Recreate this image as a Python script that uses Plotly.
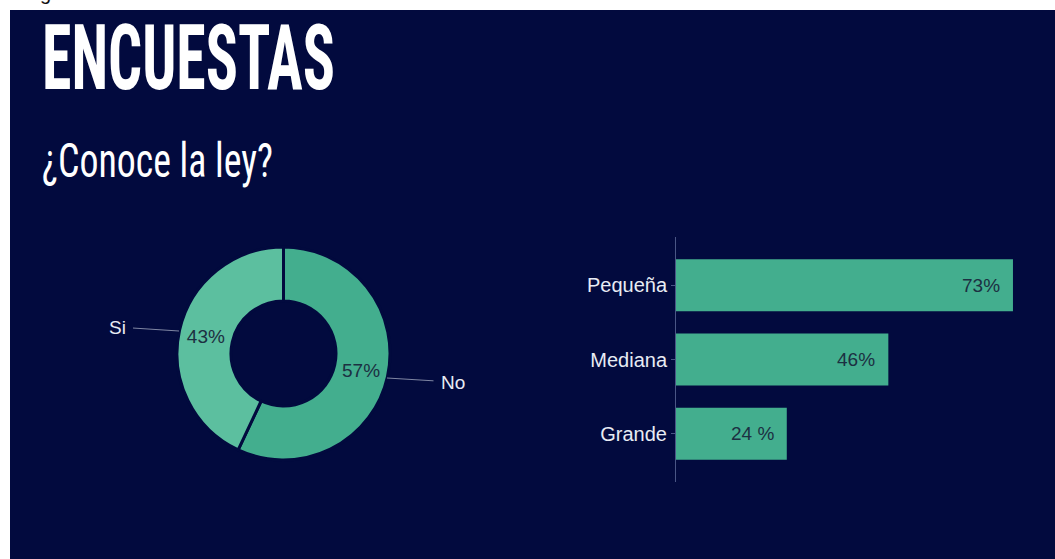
import plotly.graph_objects as go

W, H = 1055, 559

# ---- data ----
pie_labels = ["No", "Si"]
pie_values = [57, 43]
pie_text = ["57%", "43%"]

bar_categories = ["Pequeña", "Mediana", "Grande"]
bar_values = [73, 46, 24]
bar_text = ["73%", "46%", "24 %"]

title_text = "ENCUESTAS"
subtitle_text = "¿Conoce la ley?"

NAVY = "#020a3e"
TEAL = "#43ae8e"
TEAL_LIGHT = "#5cbf9f"
DARK_TXT = "#1c3042"
TICK_TXT = "#e8ecf4"


def px(x):
    return x / W


def py(y):
    return 1 - y / H


fig = go.Figure()

fig.add_trace(go.Pie(
    labels=pie_labels,
    values=pie_values,
    text=pie_text,
    textinfo="text",
    textposition="inside",
    insidetextorientation="horizontal",
    textfont=dict(family="Liberation Sans, Arial, sans-serif", size=19, color=DARK_TXT),
    sort=False,
    direction="clockwise",
    rotation=0,
    hole=0.493,
    marker=dict(colors=[TEAL, TEAL_LIGHT], line=dict(color=NAVY, width=3)),
    domain=dict(x=[px(177), px(390)], y=[py(460), py(247)]),
    showlegend=False,
    hoverinfo="label+percent",
))

fig.add_trace(go.Bar(
    x=bar_values,
    y=bar_categories,
    orientation="h",
    marker=dict(color=TEAL, line=dict(width=0)),
    showlegend=False,
    xaxis="x",
    yaxis="y",
))

annotations = []
for c, v, t in zip(bar_categories, bar_values, bar_text):
    annotations.append(dict(
        x=v, y=c, xref="x", yref="y", text=t, showarrow=False,
        xanchor="right", yanchor="middle", xshift=-11,
        font=dict(family="Liberation Sans, Arial, sans-serif", size=19, color=DARK_TXT),
    ))

# pie outside labels with leader lines
annotations.append(dict(
    x=px(179), y=py(331), xref="paper", yref="paper", text="Si",
    showarrow=True, arrowhead=0, arrowwidth=1, arrowcolor="#7f86a3",
    ax=-62, ay=-4, startstandoff=6,
    font=dict(family="Liberation Sans, Arial, sans-serif", size=19, color=TICK_TXT),
))
annotations.append(dict(
    x=px(387), y=py(378), xref="paper", yref="paper", text="No",
    showarrow=True, arrowhead=0, arrowwidth=1, arrowcolor="#7f86a3",
    ax=66, ay=4, startstandoff=6,
    font=dict(family="Liberation Sans, Arial, sans-serif", size=19, color=TICK_TXT),
))

# titles
annotations.append(dict(
    x=px(40), y=py(113), xref="paper", yref="paper", text=title_text,
    showarrow=False, xanchor="left", yanchor="bottom",
    font=dict(family="Roboto Condensed, Liberation Sans Narrow, DejaVu Sans Condensed, Liberation Sans, sans-serif",
              size=91, color="#ffffff", weight="bold"),
))
annotations.append(dict(
    x=px(40), y=py(191), xref="paper", yref="paper", text=subtitle_text,
    showarrow=False, xanchor="left", yanchor="bottom",
    font=dict(family="Roboto Condensed, Liberation Sans Narrow, DejaVu Sans Condensed, Liberation Sans, sans-serif",
              size=49, color="#ffffff", weight="normal"),
))
# stray glyph from the screenshot's top-left corner
annotations.append(dict(
    x=px(45), y=py(6), xref="paper", yref="paper", text="g",
    showarrow=False, xanchor="center", yanchor="bottom",
    font=dict(family="Liberation Sans, Arial, sans-serif", size=20, color="#111111"),
))

shapes = [
    dict(type="rect", xref="paper", yref="paper", x0=0, x1=1, y0=py(10), y1=1,
         fillcolor="#ffffff", line=dict(width=0), layer="above"),
    dict(type="rect", xref="paper", yref="paper", x0=0, x1=px(10), y0=0, y1=1,
         fillcolor="#ffffff", line=dict(width=0), layer="above"),
]

fig.update_layout(
    width=W, height=H,
    margin=dict(l=0, r=0, t=0, b=0),
    paper_bgcolor=NAVY,
    plot_bgcolor=NAVY,
    bargap=0.30,
    xaxis=dict(domain=[px(676), px(676) + 80 * 4.616 / W], range=[0, 80], visible=False, fixedrange=True),
    yaxis=dict(
        domain=[py(482), py(237)],
        categoryorder="array", categoryarray=bar_categories,
        range=[2.65, -0.65],
        showline=True, linecolor="#4a5685", linewidth=1,
        ticks="outside", ticklen=4, tickcolor="#4a5685",
        showgrid=False, zeroline=False,
        tickfont=dict(family="Liberation Sans, Arial, sans-serif", size=20, color=TICK_TXT),
        fixedrange=True,
    ),
    shapes=shapes,
    annotations=annotations,
)

post_js = """
document.documentElement.style.margin = '0';
document.body.style.margin = '0';
document.body.style.overflow = 'hidden';
var gd = document.getElementById('{plot_id}');
var targets = {'ENCUESTAS': 293, '\\u00bfConoce la ley?': 231};
gd.querySelectorAll('.annotation-text').forEach(function(t){
  var s = t.textContent;
  var target = targets[s];
  if (!target) return;
  var bb = t.getBBox();
  var k = target / bb.width;
  var prev = t.getAttribute('transform') || '';
  t.setAttribute('transform', prev + ' translate(' + bb.x + ',0) scale(' + k + ',1) translate(' + (-bb.x) + ',0)');
});
"""

fig.write_html("out.html", post_script=post_js, config={"displayModeBar": False})
